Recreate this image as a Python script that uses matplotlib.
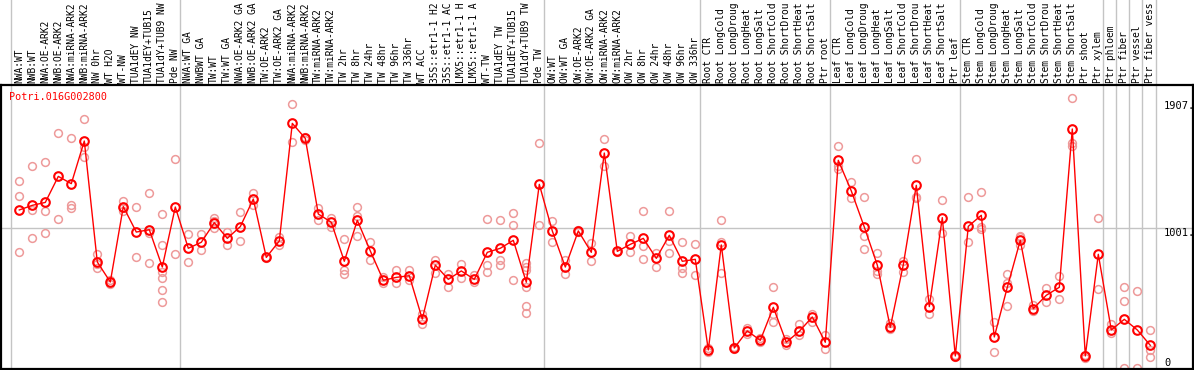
import numpy as np
import matplotlib
matplotlib.use("Agg")
import matplotlib.pyplot as plt

# === Data ===
gene = "Potri.016G002800"

# sample names as shown on the chart (cut to 14 characters there)
labels = [
    "NWA:WT", "NWB:WT", "NWA:OE-ARK2", "NWB:OE-ARK2", "NWA:miRNA-ARK2", "NWB:miRNA-ARK2",
    "NW 0hr", "WT H2O", "WT-NW", "TUA1dEY NW", "TUA1dEY+TUB15", "TUA1dY+TUB9 NW", "Pde NW",
    "NWA:WT GA", "NWBWT GA", "TW:WT", "TW:WT GA", "NWA:OE-ARK2 GA", "NWB:OE-ARK2 GA",
    "TW:OE-ARK2", "TW:OE-ARK2 GA", "NWA:miRNA-ARK2", "NWB:miRNA-ARK2", "TW:miRNA-ARK2",
    "TW:miRNA-ARK2", "TW 2hr", "TW 8hr", "TW 24hr", "TW 48hr", "TW 96hr", "TW 336hr", "WT ACC",
    "35S::etr1-1 H2", "35S::etr1-1 AC", "LMX5::etr1-1 H", "LMX5::etr1-1 A", "WT-TW",
    "TUA1dEY TW", "TUA1dEY+TUB15", "TUA1dY+TUB9 TW", "Pde TW",
    "OW:WT", "OW:WT GA", "OW:OE-ARK2", "OW:OE-ARK2 GA", "OW:miRNA-ARK2", "OW:miRNA-ARK2",
    "OW 2hr", "OW 8hr", "OW 24hr", "OW 48hr", "OW 96hr", "OW 336hr",
    "Root CTR", "Root LongCold", "Root LongDroug", "Root LongHeat", "Root LongSalt",
    "Root ShortCold", "Root ShortDrou", "Root ShortHeat", "Root ShortSalt", "Ptr root",
    "Leaf CTR", "Leaf LongCold", "Leaf LongDroug", "Leaf LongHeat", "Leaf LongSalt",
    "Leaf ShortCold", "Leaf ShortDrou", "Leaf ShortHeat", "Leaf ShortSalt", "Ptr leaf",
    "Stem CTR", "Stem LongCold", "Stem LongDroug", "Stem LongHeat", "Stem LongSalt",
    "Stem ShortCold", "Stem ShortDrou", "Stem ShortHeat", "Stem ShortSalt",
    "Ptr shoot", "Ptr xylem", "Ptr phloem", "Ptr fiber", "Ptr vessel", "Ptr fiber vess",
]

means = [
    1130, 1163, 1184, 1370, 1318, 1623, 758, 615, 1154, 972, 989, 722, 1151,
    856, 899, 1039, 927, 1011, 1208, 791, 908, 1749, 1642, 1101, 1042,
    763, 1056, 837, 627, 648, 660, 350, 736, 634, 694, 634, 827, 856, 913, 613, 1313,
    980, 722, 980, 827, 1537, 834, 884, 927, 784, 949, 763, 777,
    129, 880, 143, 265, 198, 434, 184, 262, 365, 184,
    1485, 1266, 1008, 736, 291, 739, 1306, 439, 1075, 86,
    1013, 1092, 222, 577, 913, 424, 520, 577, 1709, 86, 813,
    272, 348, 272, 162,
]

replicates = [
    [1335, 1227, 827], [1442, 1130, 927], [1473, 1120, 963], [1678, 1063],
    [1642, 1165, 1144], [1778, 1583, 1511], [815, 744, 713], [629, 601],
    [1194, 1142, 1125], [1151, 791], [1249, 968, 748], [1099, 879, 689, 641, 558, 472],
    [1492, 813], [956, 755], [956, 841], [1070, 1051, 999], [970, 882], [1113, 906],
    [1251, 1165], [796, 786], [934, 882], [1885, 1614], [1654, 1630], [1142, 1058],
    [1075, 1011], [922, 701, 670], [1151, 1087, 944], [901, 770], [653, 610],
    [701, 605], [701, 627], [386, 317], [772, 682], [672, 577], [744, 641], [665, 613],
    [1063, 734, 686], [1058, 772, 739], [1106, 1020, 627], [748, 725, 701, 582, 443, 396],
    [1606, 1020], [1051, 899], [772, 675], [990, 970], [891, 763], [1635, 1442],
    [840, 828], [944, 827], [1122, 875, 777], [820, 725], [1122, 910, 820],
    [899, 713, 682], [887, 663], [141, 112], [1056, 903, 682], [153, 134], [288, 241],
    [212, 188], [577, 384, 331], [207, 164], [312, 236], [384, 331], [236, 134],
    [1587, 1444, 1420], [1328, 1213], [1220, 946, 848], [820, 694, 670], [324, 277],
    [763, 689], [1492, 1225, 1213], [496, 388], [1199, 963], [93, 76], [1220, 903],
    [1256, 1011, 991], [327, 112], [670, 605, 441], [944, 934, 879], [450, 410],
    [570, 472], [655, 496], [1928, 1606, 1590], [93, 69], [1072, 562], [315, 248],
    [577, 477, 0], [551, 0], [272, 129, 76],
]

# group boundaries (index of first sample in each group)
group_starts = [0, 13, 41, 53, 63, 73, 84, 85, 86, 87]
y_ticks = [0, 1001, 1907]
y_tick_labels = ["0", "1001.", "1907."]

# === Figure layout (pixel based) ===
W, H = 1194, 370
fig = plt.figure(figsize=(W / 100, H / 100), dpi=100)
ax_left, ax_right, ax_top, ax_bot = 1, 1193, 85, 369
ax_h = ax_bot - ax_top
ax = fig.add_axes([ax_left / W, 1 - ax_bot / H, (ax_right - ax_left) / W, ax_h / H])

x0_px, step_px = 19.3, 13.0
ax.set_xlim(-(x0_px - ax_left) / step_px, (ax_right - x0_px) / step_px)
px_per_unit = 0.13986
ax.set_ylim(-(ax_bot - 368) / px_per_unit, (368 - ax_top) / px_per_unit)
ax.set_xticks([])
ax.set_yticks([])
for s in ax.spines.values():
    s.set_linewidth(1.6)
    s.set_color("black")

grey = "#c4c4c4"
ext = ax_bot / ax_h
for g in group_starts:
    ax.axvline(g - 0.64, ymin=0, ymax=ext, color=grey, lw=1, clip_on=False, zorder=1)
ax.axvline(len(labels) - 1 + 0.45, ymin=0, ymax=ext, color=grey, lw=1, clip_on=False, zorder=1)
ax.axhline(1001, color=grey, lw=1, zorder=1)

# === Replicates and means ===
x = np.arange(len(labels))
for i, reps in enumerate(replicates):
    ax.plot([i] * len(reps), reps, ls="none", marker="o", ms=5.6, mfc="none",
            mec="#ee9a9a", mew=1.1, zorder=2)

ax.plot(x, means, color="red", lw=1.0, zorder=3)
ax.plot(x, means, ls="none", marker="o", ms=6.2, mfc="none", mec="red", mew=1.5, zorder=4)

# === Text ===
mono = "DejaVu Sans Mono"
for i, lab in enumerate(labels):
    ax.text(i, 1 + 2 / ax_h, lab, transform=ax.get_xaxis_transform(), rotation=90,
            ha="center", va="bottom", fontsize=6.9, family=mono, clip_on=False)

ax.text(-0.8, 1 - 12 / ax_h, gene, transform=ax.get_xaxis_transform(),
        color="red", fontsize=7.3, family=mono, va="center", ha="left")

tick_x = len(labels) - 1 + (1164 - 1150.3) / step_px
for v, t in zip(y_ticks, y_tick_labels):
    ax.text(tick_x, v, t, fontsize=7.5, family=mono, ha="left",
            va="bottom" if v == 0 else "top")

fig.savefig("out.png", dpi=100)
